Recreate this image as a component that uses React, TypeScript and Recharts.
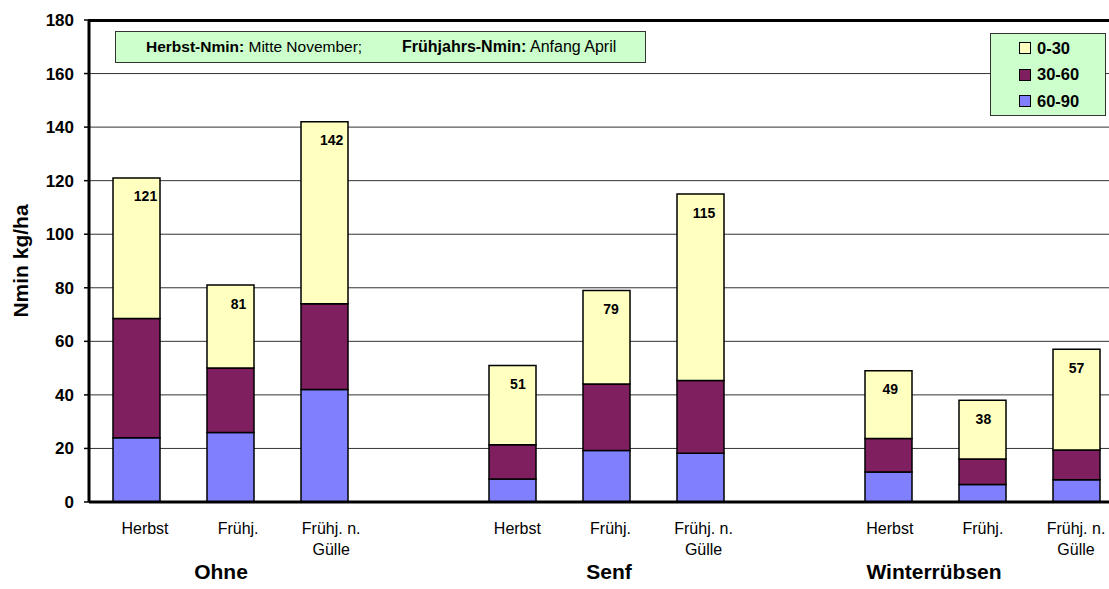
import { BarChart, Bar, XAxis, YAxis, CartesianGrid } from 'recharts';

const slots = ['o1', 'o2', 'o3', 'gap1', 's1', 's2', 's3', 'gap2', 'w1', 'w2', 'w3'];
const tickLabels = ['Herbst', 'Frühj.', 'Frühj. n.\nGülle', '', 'Herbst', 'Frühj.', 'Frühj. n.\nGülle', '', 'Herbst', 'Frühj.', 'Frühj. n.\nGülle'];
const deep = [24, 26, 42, 0, 8.6, 19.2, 18.2, 0, 11.2, 6.5, 8.3];
const mid = [44.5, 24, 32, 0, 12.8, 24.9, 27.2, 0, 12.5, 9.6, 11.1];
const top = [52.5, 31, 68, 0, 29.6, 34.9, 69.6, 0, 25.3, 21.9, 37.6];
const totals = [121, 81, 142, null, 51, 79, 115, null, 49, 38, 57];
const yTicks = [0, 20, 40, 60, 80, 100, 120, 140, 160, 180];
const groups = ['Ohne', 'Senf', 'Winterrübsen'];

const data = slots.map((slot, i) => ({
  slot,
  d60: deep[i],
  d30: mid[i],
  d0: top[i],
}));

// the bar label index only counts drawn bars, so skip the empty slots
const barTotals = totals.filter((t) => t != null);

const font = '"Liberation Sans", Arial, sans-serif';
const colors = { d0: '#FFFFC0', d30: '#801F5F', d60: '#8080FF' };

// text in the original drifts right of the bar centres, most on the left side
const shift = (x: number) => (9 * (1076 - x)) / 940;

function CategoryTick({ x, y, payload }: any) {
  const lines = String(tickLabels[payload.index] ?? '').split('\n');
  const cx = x + shift(x);
  return (
    <text x={cx} y={y} textAnchor="middle" fontFamily={font} fontSize={16} fill="#000">
      {lines.map((l, i) => (
        <tspan key={i} x={cx} dy={i === 0 ? 24 : 21}>{l}</tspan>
      ))}
    </text>
  );
}

function TotalLabel(props: any) {
  const { x, y, width, index } = props;
  const value = barTotals[index];
  if (value == null) return null;
  const cx = Number(x) + Number(width) / 2;
  return (
    <text x={cx + shift(cx)} y={Number(y) + 23.5} textAnchor="middle" fontFamily={font} fontSize={14} fontWeight="bold" fill="#000">
      {value}
    </text>
  );
}

export default function App() {
  return (
    <div style={{ position: 'fixed', left: 0, top: 0, width: 1109, height: 589, overflow: 'hidden', background: '#fff', fontFamily: font }}>
      <BarChart
        width={1140}
        height={589}
        data={data}
        margin={{ top: 20, right: 17, left: 0, bottom: 27 }}
      >
        <CartesianGrid vertical={false} stroke="#333" strokeWidth={1} />
        <XAxis
          dataKey="slot"
          height={60}
          tick={<CategoryTick />}
          tickLine={false}
          axisLine={{ stroke: '#000', strokeWidth: 3 }}
          interval={0}
        />
        <YAxis
          width={89}
          domain={[0, 180]}
          ticks={yTicks}
          tickSize={5}
          tickMargin={10}
          tick={{ fontFamily: font, fontSize: 17, fontWeight: 'bold', fill: '#000' }}
          tickLine={{ stroke: '#000', strokeWidth: 1.5 }}
          axisLine={{ stroke: '#000', strokeWidth: 3 }}
          label={{
            value: 'Nmin kg/ha',
            angle: -90,
            position: 'insideLeft',
            offset: 21,
            style: { textAnchor: 'middle', fontFamily: font, fontSize: 21, fontWeight: 'bold', fill: '#000' },
          }}
        />
        <Bar dataKey="d60" stackId="n" barSize={47} fill={colors.d60} stroke="#000" strokeWidth={1.5} isAnimationActive={false} />
        <Bar dataKey="d30" stackId="n" barSize={47} fill={colors.d30} stroke="#000" strokeWidth={1.5} isAnimationActive={false} />
        <Bar dataKey="d0" stackId="n" barSize={47} fill={colors.d0} stroke="#000" strokeWidth={1.5} isAnimationActive={false} label={TotalLabel} />
      </BarChart>

      <div style={{ position: 'absolute', left: 88, top: 18.5, width: 1030, height: 3, background: '#000' }} />

      <div
        style={{
          position: 'absolute', left: 115, top: 31, width: 531, height: 32,
          background: '#CCFFCC', border: '1px solid #333', fontSize: 15.5, whiteSpace: 'nowrap',
          display: 'flex', alignItems: 'center', boxSizing: 'border-box', paddingLeft: 30,
        }}
      >
        <span><b>Herbst-Nmin:</b> Mitte November;</span>
        <span style={{ position: 'absolute', left: 286, fontSize: 16 }}><b>Frühjahrs-Nmin:</b> Anfang April</span>
      </div>

      <div
        style={{
          position: 'absolute', left: 990, top: 33, width: 116, height: 83,
          background: '#CCFFCC', border: '1px solid #333', boxSizing: 'border-box',
          padding: '1px 0 0 28px', fontSize: 16.5, fontWeight: 'bold',
        }}
      >
        {[['0-30', colors.d0], ['30-60', colors.d30], ['60-90', colors.d60]].map(([name, c]) => (
          <div key={name} style={{ display: 'flex', alignItems: 'center', height: 26.5 }}>
            <span style={{ width: 10, height: 10, background: c, border: '1px solid #000', marginRight: 6 }} />
            {name}
          </div>
        ))}
      </div>

      {groups.map((g, i) => (
        <div
          key={g}
          style={{
            position: 'absolute', top: 560, left: [221, 609, 934][i] - 90, width: 180,
            textAlign: 'center', fontSize: 21, fontWeight: 'bold',
          }}
        >
          {g}
        </div>
      ))}
    </div>
  );
}
